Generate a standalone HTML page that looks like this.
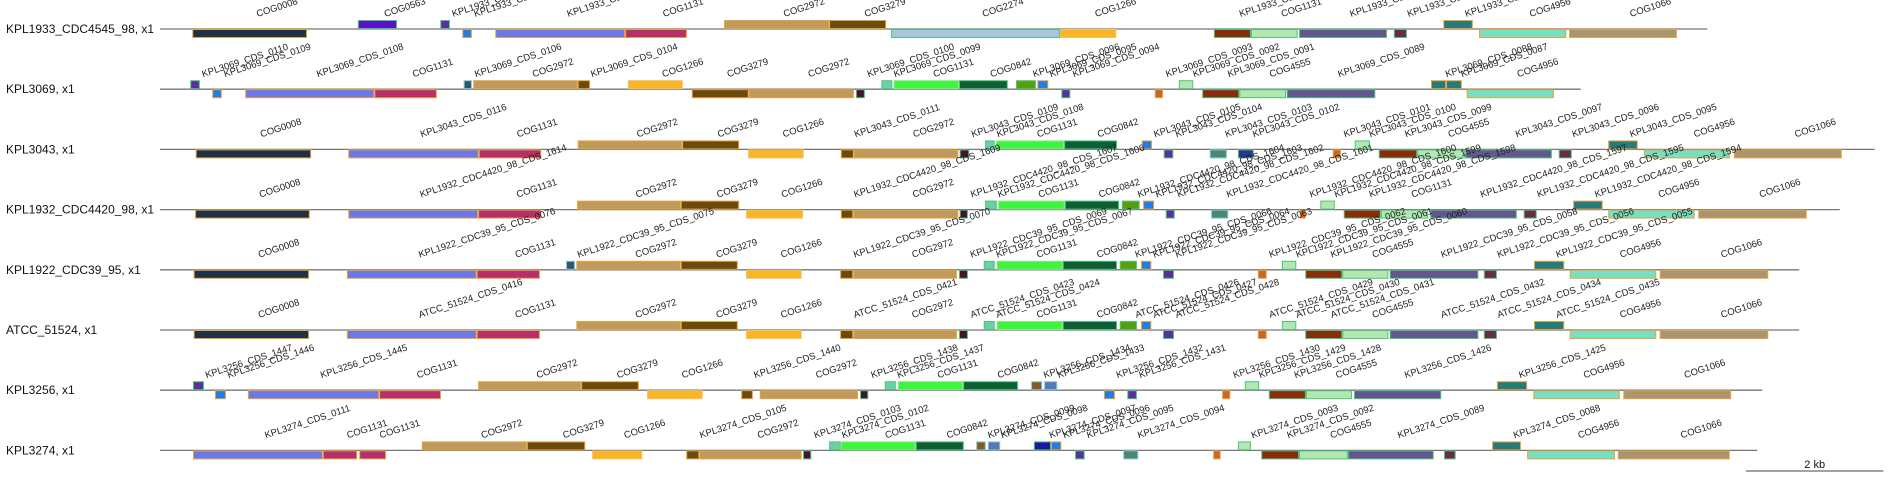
<!DOCTYPE html>
<html><head><meta charset="utf-8"><style>
html,body{margin:0;padding:0;background:#fff;}
svg{display:block;font-family:"Liberation Sans",Arial,sans-serif;}
</style></head><body>
<svg id="chart" width="1890" height="480" viewBox="0 0 1890 480" xmlns="http://www.w3.org/2000/svg"></svg>
<script>
const trackLabels=["KPL1933_CDC4545_98, x1","KPL3069, x1","KPL3043, x1","KPL1932_CDC4420_98, x1","KPL1922_CDC39_95, x1","ATCC_51524, x1","KPL3256, x1","KPL3274, x1"];
const trackLengths=[22.52,20.68,24.96,24.45,23.86,23.86,23.32,23.25];

const t1Names=["COG0008","COG0563","KPL1933_CDS_0113","KPL1933_CDS_0112","KPL1933_CDS_0111","COG1131","COG2972","COG3279","COG2274","COG1266","KPL1933_CDS_0101","COG1131","KPL1933_CDS_0099","KPL1933_CDS_0098","KPL1933_CDS_0097","COG4956","COG1066"];
const t1Start=[0.47,2.88,4.08,4.40,4.88,6.77,8.21,9.74,10.64,13.10,15.34,15.88,16.58,17.96,18.68,19.20,20.51];
const t1End=[2.14,3.45,4.22,4.54,6.77,7.67,9.74,10.57,13.10,13.92,15.88,16.56,17.86,18.15,19.11,20.47,22.08];
const t1Strand=[-1,1,1,-1,-1,-1,1,1,-1,-1,-1,-1,-1,-1,1,-1,-1];
const t1Type=["nav","vio","pur","blu","peri","mag","tan","brn","lbl","org","rst","lgr","ppl","mar","tea","aqu","kha"];

const t2Names=["KPL3069_CDS_0110","KPL3069_CDS_0109","KPL3069_CDS_0108","COG1131","KPL3069_CDS_0106","COG2972","KPL3069_CDS_0104","COG1266","COG3279","COG2972","KPL3069_CDS_0100","KPL3069_CDS_0099","COG1131","COG0842","KPL3069_CDS_0096","KPL3069_CDS_0095","KPL3069_CDS_0094","KPL3069_CDS_0093","KPL3069_CDS_0092","KPL3069_CDS_0091","COG4555","KPL3069_CDS_0089","KPL3069_CDS_0088","KPL3069_CDS_0087","COG4956"];
const t2Start=[0.44,0.76,1.24,3.12,4.42,4.56,6.08,6.81,7.74,8.57,10.13,10.50,10.68,11.63,12.46,12.77,13.12,14.48,14.83,15.17,15.71,16.40,18.50,18.72,19.02];
const t2End=[0.58,0.90,3.12,4.03,4.54,6.08,6.26,7.61,8.57,10.10,10.26,10.66,11.63,12.34,12.75,12.93,13.25,14.60,15.04,15.71,16.39,17.69,18.72,18.95,20.29];
const t2Strand=[1,-1,-1,-1,1,1,1,1,-1,-1,-1,1,1,1,1,1,-1,-1,1,-1,-1,-1,1,1,-1];
const t2Type=["pur","blu","peri","mag","slt","tan","brn","org","brn","tan","dm","aq2","grn","dgr","olv","blu","pur","ob","lgr","rst","lgr","ppl","tea","tea","aqu"];

const t3Names=["COG0008","KPL3043_CDS_0116","COG1131","COG2972","COG3279","COG1266","KPL3043_CDS_0111","COG2972","KPL3043_CDS_0109","KPL3043_CDS_0108","COG1131","COG0842","KPL3043_CDS_0105","KPL3043_CDS_0104","KPL3043_CDS_0103","KPL3043_CDS_0102","KPL3043_CDS_0101","KPL3043_CDS_0100","KPL3043_CDS_0099","COG4555","KPL3043_CDS_0097","KPL3043_CDS_0096","KPL3043_CDS_0095","COG4956","COG1066"];
const t3Start=[0.52,2.74,4.64,6.08,7.60,8.56,9.91,10.10,11.64,12.01,12.17,13.16,14.29,14.61,15.28,15.69,17.07,17.39,17.74,18.30,19.00,20.36,21.08,21.60,22.91];
const t3End=[2.20,4.64,5.55,7.60,8.43,9.37,10.10,11.62,11.78,12.15,13.16,13.93,14.44,14.75,15.53,15.92,17.19,17.61,18.30,19.00,20.26,20.55,21.51,22.85,24.48];
const t3Strand=[-1,-1,-1,1,1,-1,-1,-1,-1,1,1,1,1,-1,-1,-1,-1,1,-1,-1,-1,-1,1,-1,-1];
const t3Type=["nav","peri","mag","tan","brn","org","brn","tan","dm","aq2","grn","dgr","blu","pur","sgr","dbl","ob","lgr","rst","lgr","ppl","mar","tea","aqu","kha"];

const t4Names=["COG0008","KPL1932_CDC4420_98_CDS_1614","COG1131","COG2972","COG3279","COG1266","KPL1932_CDC4420_98_CDS_1609","COG2972","KPL1932_CDC4420_98_CDS_1607","KPL1932_CDC4420_98_CDS_1606","COG1131","COG0842","KPL1932_CDC4420_98_CDS_1604","KPL1932_CDC4420_98_CDS_1603","KPL1932_CDC4420_98_CDS_1602","KPL1932_CDC4420_98_CDS_1601","KPL1932_CDC4420_98_CDS_1600","KPL1932_CDC4420_98_CDS_1599","KPL1932_CDC4420_98_CDS_1598","COG1131","KPL1932_CDC4420_98_CDS_1597","KPL1932_CDC4420_98_CDS_1595","KPL1932_CDC4420_98_CDS_1594","COG4956","COG1066"];
const t4Start=[0.51,2.74,4.63,6.07,7.58,8.53,9.91,10.09,11.64,12.01,12.20,13.17,14.00,14.31,14.64,15.30,16.59,16.89,17.23,17.77,18.49,19.85,20.57,21.08,22.39];
const t4End=[2.18,4.63,5.55,7.58,8.43,9.36,10.09,11.62,11.76,12.18,13.17,13.96,14.26,14.47,14.77,15.55,16.68,17.10,17.77,18.46,19.75,20.04,21.00,22.34,23.97];
const t4Strand=[-1,-1,-1,1,1,-1,-1,-1,-1,1,1,1,1,1,-1,-1,-1,1,-1,-1,-1,-1,1,-1,-1];
const t4Type=["nav","peri","mag","tan","brn","org","brn","tan","dm","aq2","grn","dgr","olv","blu","pur","sgr","ob","lgr","rst","lgr","ppl","mar","tea","aqu","kha"];

const t5Names=["COG0008","KPL1922_CDC39_95_CDS_0076","COG1131","KPL1922_CDC39_95_CDS_0075","COG2972","COG3279","COG1266","KPL1922_CDC39_95_CDS_0070","COG2972","KPL1922_CDC39_95_CDS_0069","KPL1922_CDC39_95_CDS_0067","COG1131","COG0842","KPL1922_CDC39_95_CDS_0066","KPL1922_CDC39_95_CDS_0064","KPL1922_CDC39_95_CDS_0063","KPL1922_CDC39_95_CDS_0062","KPL1922_CDC39_95_CDS_0061","KPL1922_CDC39_95_CDS_0060","COG4555","KPL1922_CDC39_95_CDS_0058","KPL1922_CDC39_95_CDS_0056","KPL1922_CDC39_95_CDS_0055","COG4956","COG1066"];
const t5Start=[0.49,2.72,4.61,5.91,6.06,7.58,8.53,9.90,10.09,11.63,11.99,12.18,13.14,13.97,14.28,14.60,15.98,16.33,16.67,17.21,17.90,19.27,20.00,20.52,21.83];
const t5End=[2.17,4.61,5.53,6.04,7.58,8.41,9.34,10.09,11.60,11.76,12.15,13.14,13.93,14.22,14.43,14.76,16.11,16.54,17.21,17.88,19.19,19.46,20.44,21.78,23.41];
const t5Strand=[-1,-1,-1,1,1,1,-1,-1,-1,-1,1,1,1,1,1,-1,-1,1,-1,-1,-1,-1,1,-1,-1];
const t5Type=["nav","peri","mag","slt","tan","brn","org","brn","tan","dm","aq2","grn","dgr","olv","blu","pur","ob","lgr","rst","lgr","ppl","mar","tea","aqu","kha"];

const t6Names=["COG0008","ATCC_51524_CDS_0416","COG1131","COG2972","COG3279","COG1266","ATCC_51524_CDS_0421","COG2972","ATCC_51524_CDS_0423","ATCC_51524_CDS_0424","COG1131","COG0842","ATCC_51524_CDS_0426","ATCC_51524_CDS_0427","ATCC_51524_CDS_0428","ATCC_51524_CDS_0429","ATCC_51524_CDS_0430","ATCC_51524_CDS_0431","COG4555","ATCC_51524_CDS_0432","ATCC_51524_CDS_0434","ATCC_51524_CDS_0435","COG4956","COG1066"];
const t6Start=[0.49,2.72,4.61,6.06,7.58,8.53,9.90,10.09,11.63,11.99,12.18,13.14,13.97,14.28,14.60,15.98,16.33,16.67,17.21,17.90,19.27,20.00,20.52,21.83];
const t6End=[2.17,4.61,5.53,7.58,8.41,9.34,10.09,11.60,11.76,12.15,13.14,13.93,14.22,14.43,14.76,16.11,16.54,17.21,17.88,19.19,19.46,20.44,21.78,23.41];
const t6Strand=[-1,-1,-1,1,1,-1,-1,-1,-1,1,1,1,1,1,-1,-1,1,-1,-1,-1,-1,1,-1,-1];
const t6Type=["nav","peri","mag","tan","brn","org","brn","tan","dm","aq2","grn","dgr","olv","blu","pur","ob","lgr","rst","lgr","ppl","mar","tea","aqu","kha"];

const t7Names=["KPL3256_CDS_1447","KPL3256_CDS_1446","KPL3256_CDS_1445","COG1131","COG2972","COG3279","COG1266","KPL3256_CDS_1440","COG2972","KPL3256_CDS_1438","KPL3256_CDS_1437","COG1131","COG0842","KPL3256_CDS_1434","KPL3256_CDS_1433","KPL3256_CDS_1432","KPL3256_CDS_1431","KPL3256_CDS_1430","KPL3256_CDS_1429","KPL3256_CDS_1428","COG4555","KPL3256_CDS_1426","KPL3256_CDS_1425","COG4956","COG1066"];
const t7Start=[0.48,0.80,1.28,3.19,4.63,6.13,7.09,8.46,8.73,10.19,10.55,10.74,11.69,12.68,12.87,13.74,14.08,15.46,15.79,16.14,16.68,17.38,19.46,19.99,21.30];
const t7End=[0.64,0.96,3.19,4.09,6.13,6.97,7.90,8.63,10.16,10.31,10.71,11.69,12.49,12.84,13.06,13.90,14.22,15.58,16.00,16.68,17.35,18.65,19.90,21.25,22.87];
const t7Strand=[1,-1,-1,-1,1,1,-1,-1,-1,-1,1,1,1,1,1,-1,-1,-1,1,-1,-1,-1,1,-1,-1];
const t7Type=["pur","blu","peri","mag","tan","brn","org","brn","tan","dm","aq2","grn","dgr","br2","sbl","blu","pur","ob","lgr","rst","lgr","ppl","tea","aqu","kha"];

const t8Names=["KPL3274_CDS_0111","COG1131","COG1131","COG2972","COG3279","COG1266","KPL3274_CDS_0105","COG2972","KPL3274_CDS_0103","KPL3274_CDS_0102","COG1131","COG0842","KPL3274_CDS_0099","KPL3274_CDS_0098","KPL3274_CDS_0097","KPL3274_CDS_0096","KPL3274_CDS_0095","KPL3274_CDS_0094","","KPL3274_CDS_0093","KPL3274_CDS_0092","COG4555","KPL3274_CDS_0089","","KPL3274_CDS_0088","COG4956","COG1066"];
const t8Start=[0.48,2.37,2.90,3.81,5.34,6.29,7.66,7.85,9.36,9.74,9.91,11.00,11.88,12.05,12.72,12.97,13.32,14.02,15.33,15.69,16.03,16.58,17.29,18.69,19.39,19.90,21.22];
const t8End=[2.37,2.87,3.29,5.34,6.19,7.02,7.85,9.34,9.48,9.91,11.00,11.70,12.02,12.23,12.97,13.12,13.46,14.24,15.44,15.88,16.58,17.29,18.54,18.86,19.81,21.18,22.85];
const t8Strand=[-1,-1,-1,1,1,-1,-1,-1,-1,1,1,1,1,1,1,1,-1,-1,-1,1,-1,-1,-1,-1,1,-1,-1];
const t8Type=["peri","mag","mag","tan","brn","org","brn","tan","dm","aq2","grn","dgr","br2","sbl","db2","blu","pur","sgr","ob","lgr","rst","lgr","ppl","mar","tea","aqu","kha"];

const scaleBarKb=2;

const FILL={nav:"#1c3248",peri:"#6b78ea",mag:"#b72e6d",pur:"#5b2fa0",vio:"#5a10cc",blu:"#1f7fe8",tan:"#be9a5c",brn:"#6b4a0d",lbl:"#a9c4dc",org:"#f8b526",rst:"#8a2c0c",lgr:"#b3e6b0",ppl:"#655590",mar:"#6b2a45",tea:"#277a7a",aqu:"#76e0c4",kha:"#a99570",aq2:"#6ccfa5",grn:"#3cf53c",dgr:"#0f5e35",olv:"#5a9e10",slt:"#3a5560",ob:"#c8672a",sgr:"#4a8a6a",dbl:"#2a3590",br2:"#8a5a1a",sbl:"#5a78b0",db2:"#1a1aa0",dm:"#4a1030"};
const OR="#e8a33d",GR="#4cc47a",LB="#7ec8e8";
const STROKE={nav:OR,peri:OR,mag:OR,pur:GR,vio:GR,blu:OR,tan:OR,brn:OR,lbl:GR,org:"#f5c060",rst:GR,lgr:GR,ppl:GR,mar:GR,tea:OR,aqu:OR,kha:OR,aq2:GR,grn:"#8ee88e",dgr:GR,olv:GR,slt:LB,ob:OR,sgr:LB,dbl:GR,br2:LB,sbl:LB,db2:GR,dm:GR};

const tracks=[
 [t1Names,t1Start,t1End,t1Strand,t1Type],[t2Names,t2Start,t2End,t2Strand,t2Type],
 [t3Names,t3Start,t3End,t3Strand,t3Type],[t4Names,t4Start,t4End,t4Strand,t4Type],
 [t5Names,t5Start,t5End,t5Strand,t5Type],[t6Names,t6Start,t6End,t6Strand,t6Type],
 [t7Names,t7Start,t7End,t7Strand,t7Type],[t8Names,t8Start,t8End,t8Strand,t8Type]];

const X0=160,PXKB=68.7;
function xs(kb){return X0+kb*PXKB;}
function ys(i){return 29+i*60.2;}
const NS="http://www.w3.org/2000/svg";
const svg=document.getElementById('chart');
function mk(tag,attrs,parent){const e=document.createElementNS(NS,tag);for(const k in attrs)e.setAttribute(k,attrs[k]);(parent||svg).appendChild(e);return e;}

tracks.forEach((tr,i)=>{
  const y0=ys(i);
  const g=mk('g',{});
  
  
  const lab=mk('text',{x:6,y:y0+4,'font-size':12,fill:'#111'},g);
  lab.textContent=trackLabels[i];
  
  
  const ln=mk('line',{x1:xs(0),x2:xs(trackLengths[i]),y1:y0,y2:y0,stroke:'#777','stroke-width':1.3},g);
  
  
  const [nm,st,en,sd,tp]=tr;
  for(let k=0;k<st.length;k++){
    const x1=xs(st[k]),x2=xs(en[k]);
    const y=sd[k]>0?y0-8.5:y0+0.5;
    const r=mk('rect',{x:x1+0.5,y:y,width:Math.max(1,x2-x1-1),height:8,fill:FILL[tp[k]],stroke:STROKE[tp[k]],'stroke-width':1},g);
    
    
    if(nm[k]){
      const cx=(x1+x2)/2+8,cy=y0-12;
      const t=mk('text',{x:cx,y:cy,'font-size':9.5,fill:'#222',transform:'rotate(-18 '+cx+' '+cy+')'},g);
      t.textContent=nm[k];
      
      
    }
  }
});
const sbx=1746;
const sb=mk('line',{x1:sbx,x2:sbx+scaleBarKb*PXKB,y1:471,y2:471,stroke:'#444','stroke-width':1});


const sbt=mk('text',{x:sbx+scaleBarKb*PXKB/2,y:468,'font-size':11,'text-anchor':'middle',fill:'#111'});
sbt.textContent=scaleBarKb+' kb';


</script>
</body></html>
